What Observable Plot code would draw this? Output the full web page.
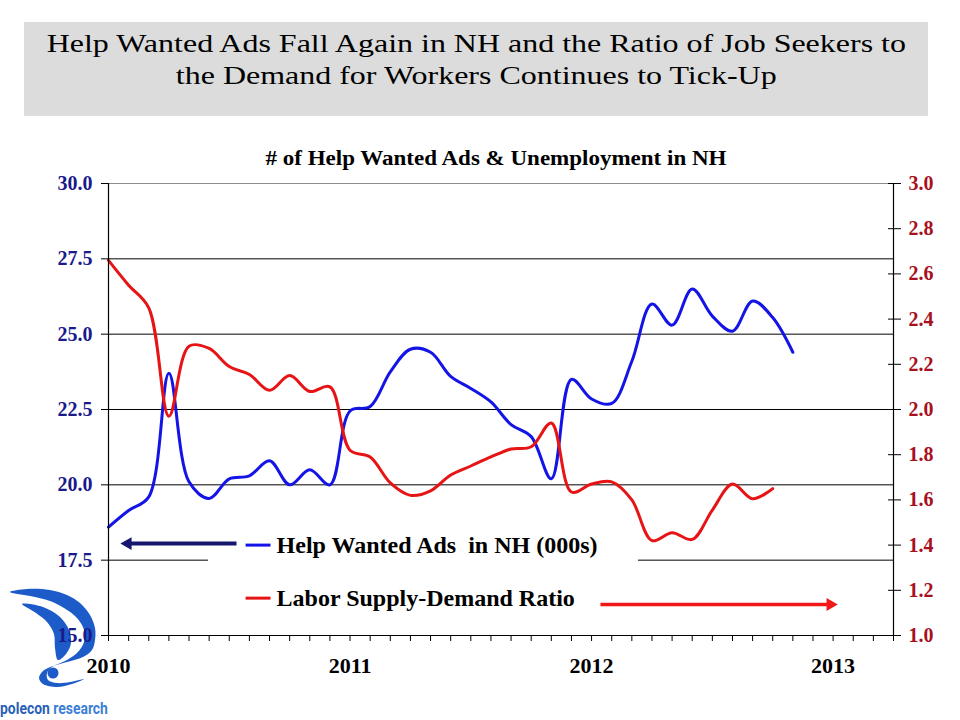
<!DOCTYPE html>
<html>
<head>
<meta charset="utf-8">
<script src="https://cdn.jsdelivr.net/npm/d3@7"></script>
<script src="https://cdn.jsdelivr.net/npm/@observablehq/plot@0.6"></script>
<style>
  body { margin: 0; background: white; }
  #wrap { position: relative; width: 960px; height: 720px; background: white; overflow: hidden; }
  #titlebox { position: absolute; left: 24px; top: 22px; width: 904px; height: 94px; background: #dcdcdc; }
  #title { position: absolute; left: 0; top: 28px; width: 953px; text-align: center;
           font-family: "Liberation Serif", "Times New Roman", serif; font-size: 26px; line-height: 32px; color: #000; }
  #title .ln { display: inline-block; white-space: nowrap; transform: scaleX(1.23); transform-origin: center; }
  #subtitle { position: absolute; left: 496px; top: 148px; white-space: nowrap;
              font-family: "Liberation Serif", "Times New Roman", serif; font-weight: bold; font-size: 20px; line-height: 20px;
              transform: translateX(-50%) scaleX(1.15); color: #000; }
  #logo { position: absolute; left: 0; top: 580px; }
  #chart { position: absolute; left: 0; top: 140px; }
</style>
</head>
<body>
<div id="wrap">
  <div id="titlebox"></div>
  <div id="title"><span class="ln">Help Wanted Ads Fall Again in NH and the Ratio of Job Seekers to</span><br><span class="ln">the Demand for Workers Continues to Tick-Up</span></div>
  <svg id="logo" width="160" height="140"></svg>
  <div id="chart"></div>
  <div id="subtitle"># of Help Wanted Ads &amp; Unemployment in NH</div>
</div>
<script>
// ---- Data (monthly, Jan 2010 onward) ----
const months = [
  "2010-01","2010-02","2010-03","2010-04","2010-05","2010-06","2010-07","2010-08","2010-09","2010-10","2010-11","2010-12",
  "2011-01","2011-02","2011-03","2011-04","2011-05","2011-06","2011-07","2011-08","2011-09","2011-10","2011-11","2011-12",
  "2012-01","2012-02","2012-03","2012-04","2012-05","2012-06","2012-07","2012-08","2012-09","2012-10","2012-11"
];
// Help Wanted Ads in NH (000s) - left axis
const helpWanted = [
  18.6, 19.15, 19.6, 23.7, 20.1, 19.55, 20.2, 20.3, 20.8, 20.0, 20.5, 20.0,
  22.45, 22.6, 23.75, 24.5, 24.4, 23.6, 23.2, 22.75, 22.0, 21.6, 20.2, 23.5,
  22.85, 22.7, 24.1, 26.0, 25.3, 26.5, 25.6, 25.1, 26.1, 25.55, 24.4
];
// Labor Supply-Demand Ratio - right axis (ends Oct 2012)
const laborRatio = [
  2.66, 2.55, 2.45, 1.97, 2.28, 2.27, 2.19, 2.155, 2.085, 2.15, 2.08, 2.10,
  1.82, 1.79, 1.675, 1.62, 1.64, 1.71, 1.75, 1.79, 1.825, 1.835, 1.94, 1.635,
  1.67, 1.68, 1.60, 1.42, 1.455, 1.425, 1.555, 1.67, 1.605, 1.65
];
const leftTicks = [15, 17.5, 20, 22.5, 25, 27.5, 30];
const rightTicks = [1.0, 1.2, 1.4, 1.6, 1.8, 2.0, 2.2, 2.4, 2.6, 2.8, 3.0];
const yearLabels = ["2010", "2011", "2012", "2013"];
const gridValues = [17.5, 20, 22.5, 25, 27.5];
const axisMonthCount = 39; // Jan 2010 .. Apr 2013

const legendItems = ["Help Wanted Ads\u00a0 in NH (000s)", "Labor Supply-Demand Ratio"];

// ---- Mapping right axis onto left axis ----
const leftMin = 15, leftMax = 30, rightMin = 1, rightMax = 3;
const k = (leftMax - leftMin) / (rightMax - rightMin);
const toLeft = r => leftMin + (r - rightMin) * k;
const toRight = v => (v - leftMin) / k + rightMin;

const helpData = helpWanted.map((v, i) => ({m: i, v, label: months[i]}));
const ratioData = laborRatio.map((r, i) => ({m: i, v: toLeft(r), label: months[i]}));

// annotations in data units (x = month index from Jan 2010, y = left-axis units)
const legendBox = [{x1: 4.97, x2: 26.33, y1: 15.7, y2: 18.7}];
const legendLines = [
  {x1: 6.81, x2: 8.05, y: 18.0, color: "#1414e6"},
  {x1: 6.81, x2: 8.05, y: 16.24, color: "#e61414"}
];
const legendText = [
  {x: 8.35, y: 18.0, text: legendItems[0]},
  {x: 8.35, y: 16.24, text: legendItems[1]}
];
const arrows = [
  {x1: 6.36, x2: 0.9, y: 18.05, head: 0.96, rot: -90, color: "#16166e", w: 4},
  {x1: 24.44, x2: 35.7, y: 16.03, head: 35.86, rot: 90, color: "#f01818", w: 3.5}
];

const serif = "Liberation Serif, Times New Roman, serif";

const chart = Plot.plot({
  width: 960,
  height: 580,
  marginTop: 43,
  marginBottom: 85,
  marginLeft: 108,
  marginRight: 67,
  style: {fontFamily: serif, background: "transparent"},
  x: {domain: [0, axisMonthCount], axis: null},
  y: {domain: [leftMin, leftMax], axis: null},
  marks: [
    Plot.ruleY(gridValues, {stroke: "black", strokeWidth: 1}),
    Plot.ruleY([leftMax], {stroke: "#8c8c8c", strokeWidth: 1.2}),
    Plot.rect(legendBox, {x1: "x1", x2: "x2", y1: "y1", y2: "y2", fill: "white"}),
    Plot.line(helpData, {x: "m", y: "v", stroke: "#1414e6", strokeWidth: 3, curve: "catmull-rom"}),
    Plot.line(ratioData, {x: "m", y: "v", stroke: "#e61414", strokeWidth: 3, curve: "catmull-rom"}),
    Plot.link(legendLines, {x1: "x1", x2: "x2", y1: "y", y2: "y", stroke: d => d.color, strokeWidth: 3}),
    Plot.text(legendText, {x: "x", y: "y", text: "text", textAnchor: "start", fontSize: 24, fontWeight: "bold", fill: "black"}),
    Plot.link(arrows, {x1: "x1", x2: "x2", y1: "y", y2: "y", stroke: d => d.color, strokeWidth: d => d.w}),
    Plot.dot(arrows, {x: "head", y: "y", symbol: "triangle", r: 4.8, rotate: "rot", fill: d => d.color, stroke: "none"}),
    Plot.ruleX([0, axisMonthCount], {stroke: "black", strokeWidth: 1.2}),
    Plot.ruleY([leftMin], {stroke: "black", strokeWidth: 1.2}),
    Plot.axisY(leftTicks, {anchor: "left", tickSize: 7, tickPadding: 9, tickFormat: d => d.toFixed(1),
      fill: "#1a1a8c", stroke: "black", fontSize: 20, fontWeight: "bold", label: null}),
    Plot.axisY(rightTicks.map(toLeft), {anchor: "right", tickSize: 13, dx: -6, tickPadding: 8,
      tickFormat: d => toRight(d).toFixed(1), fill: "#a8101e", stroke: "black", fontSize: 20, fontWeight: "bold", label: null}),
    Plot.axisX(d3.range(0, axisMonthCount + 1), {anchor: "bottom", tickSize: 6, tickFormat: () => "", stroke: "black", label: null}),
    Plot.axisX(yearLabels.map((y, i) => i * 12), {anchor: "bottom", tickSize: 0, tickPadding: 22,
      tickFormat: (d, i) => yearLabels[i], fill: "black", fontSize: 22, fontWeight: "bold", label: null})
  ]
});
document.getElementById("chart").appendChild(chart);

// ---- Logo (polecon research) ----
const logo = d3.select("#logo");
const closed = d3.line().curve(d3.curveCatmullRomClosed.alpha(0.5));
const outer = [[10,12],[27,9],[50,10],[67,15],[80,23],[90,35],[95,48],[95,60],[92,70],[83,77],[67,82],[53,86],[43,91],[39,98],[43,104],[57,107],[72,104],[84,99],
               [70,102],[57,103],[48,100],[47,93],[52,87],[65,81],[77,73],[84,62],[84,50],[77,38],[64,28],[50,21],[30,16]];
const inner = [[22,24],[43,27],[60,37],[69,50],[71,63],[66,74],[58,80],[55,68],[54,54],[47,42],[36,33]];
const logoBlue = "#1d5cc8";
logo.append("path").attr("d", closed(outer)).attr("fill", logoBlue);
logo.append("path").attr("d", closed(inner)).attr("fill", logoBlue);
logo.append("circle").attr("cx", 53).attr("cy", 93).attr("r", 5.5).attr("fill", logoBlue);
const logoText = logo.append("text").attr("x", 0).attr("y", 134)
  .attr("font-family", "Liberation Sans Narrow, Roboto, Liberation Sans, sans-serif")
  .attr("font-weight", "bold").attr("font-size", 17);
logoText.append("tspan").attr("fill", "#2a5fb8").text("polecon");
logoText.append("tspan").attr("fill", "#3b7fd6").text(" research");
const natural = logoText.node().getComputedTextLength();
if (natural > 0) logoText.attr("transform", `scale(${108 / natural},1)`);
</script>
</body>
</html>
